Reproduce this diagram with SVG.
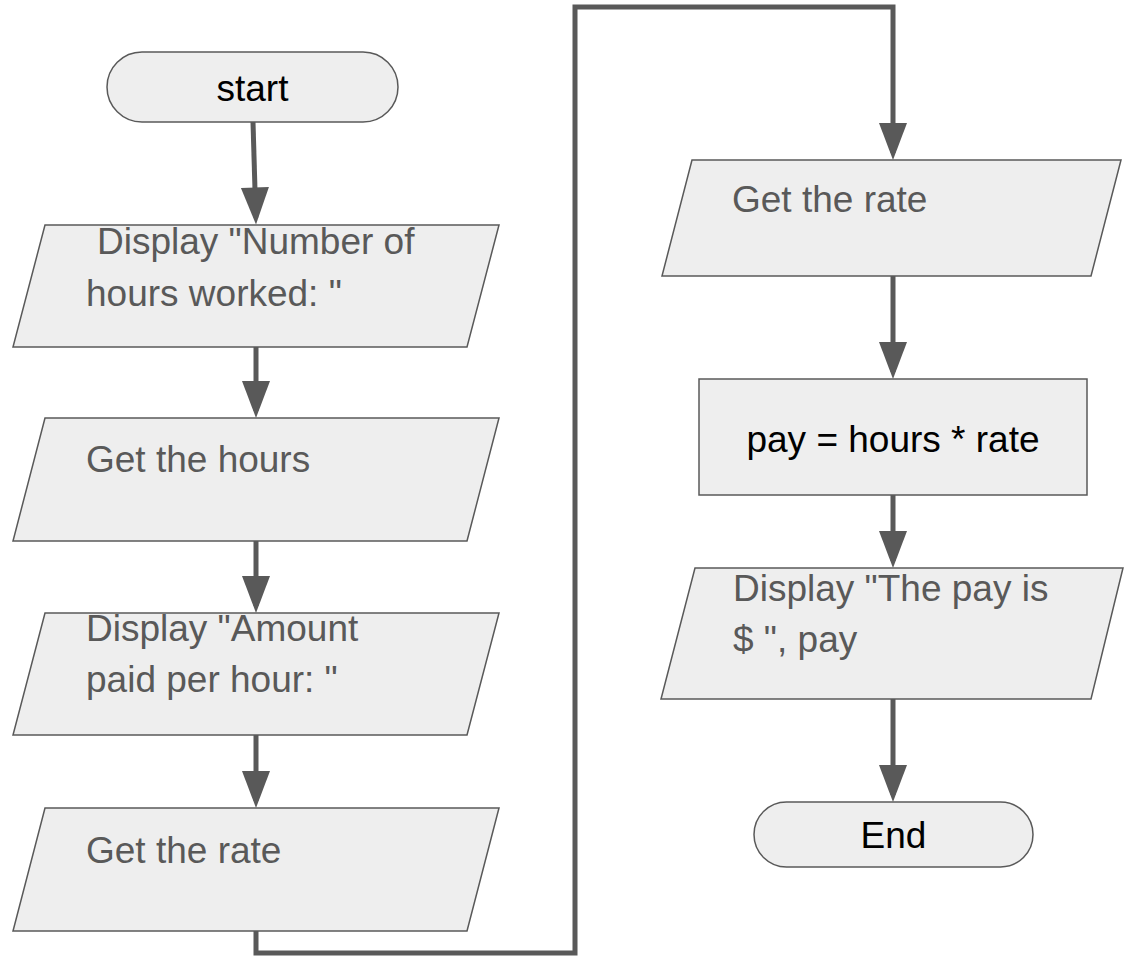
<svg xmlns="http://www.w3.org/2000/svg" width="1124" height="956" viewBox="0 0 1124 956">
  <style>
    .shape { fill: #eeeeee; stroke: #595959; stroke-width: 1.5; }
    .io { font-family: "Liberation Sans", Arial, sans-serif; font-size: 37px; fill: #595959; }
    .dark { font-family: "Liberation Sans", Arial, sans-serif; font-size: 37px; fill: #000000; text-anchor: middle; }
    .conn { fill: none; stroke: #595959; stroke-width: 5; stroke-linejoin: miter; }
  </style>
  <defs>
    <marker id="arrow" markerUnits="userSpaceOnUse" markerWidth="37" markerHeight="28" refX="30" refY="14" orient="auto" overflow="visible">
      <path d="M0,0 L37,14 L0,28 Z" fill="#595959"/>
    </marker>
  </defs>
  <rect width="1124" height="956" fill="#ffffff"/>

  <g id="connectors">
    <path class="conn" d="M253 122 L255.8 217.5" marker-end="url(#arrow)"/>
    <path class="conn" d="M256 347 V411" marker-end="url(#arrow)"/>
    <path class="conn" d="M256 541 V606" marker-end="url(#arrow)"/>
    <path class="conn" d="M256 735 V801" marker-end="url(#arrow)"/>
    <path class="conn" d="M256 931 V953 H575 V7 H893 V153" marker-end="url(#arrow)"/>
    <path class="conn" d="M893 276 V372" marker-end="url(#arrow)"/>
    <path class="conn" d="M893 495 V561" marker-end="url(#arrow)"/>
    <path class="conn" d="M893 699 V795" marker-end="url(#arrow)"/>
  </g>

  <g id="start">
    <rect class="shape" x="107" y="52" width="291" height="70" rx="35" ry="35"/>
    <text class="dark" x="252.5" y="101">start</text>
  </g>

  <g id="display-hours">
    <polygon class="shape" points="45,225 499,225 467,347 13,347"/>
    <text class="io" x="97" y="254">Display "Number of</text>
    <text class="io" x="86" y="306">hours worked: "</text>
  </g>

  <g id="get-hours">
    <polygon class="shape" points="45,418 499,418 467,541 13,541"/>
    <text class="io" x="86" y="472">Get the hours</text>
  </g>

  <g id="display-amount">
    <polygon class="shape" points="45,613 499,613 467,735 13,735"/>
    <text class="io" x="86" y="641">Display "Amount</text>
    <text class="io" x="86" y="692">paid per hour: "</text>
  </g>

  <g id="get-rate-left">
    <polygon class="shape" points="45,808 499,808 467,931 13,931"/>
    <text class="io" x="86" y="863">Get the rate</text>
  </g>

  <g id="get-rate-right">
    <polygon class="shape" points="692,160 1121,160 1091,276 662,276"/>
    <text class="io" x="732" y="212">Get the rate</text>
  </g>

  <g id="compute-pay">
    <rect class="shape" x="699" y="379" width="388" height="116"/>
    <text class="dark" x="893" y="452">pay = hours * rate</text>
  </g>

  <g id="display-pay">
    <polygon class="shape" points="695,568 1123,568 1091,699 661,699"/>
    <text class="io" x="733" y="601">Display "The pay is</text>
    <text class="io" x="733" y="652">$ ", pay</text>
  </g>

  <g id="end">
    <rect class="shape" x="754" y="802" width="279" height="65" rx="32.5" ry="32.5"/>
    <text class="dark" x="893.5" y="848">End</text>
  </g>
</svg>
